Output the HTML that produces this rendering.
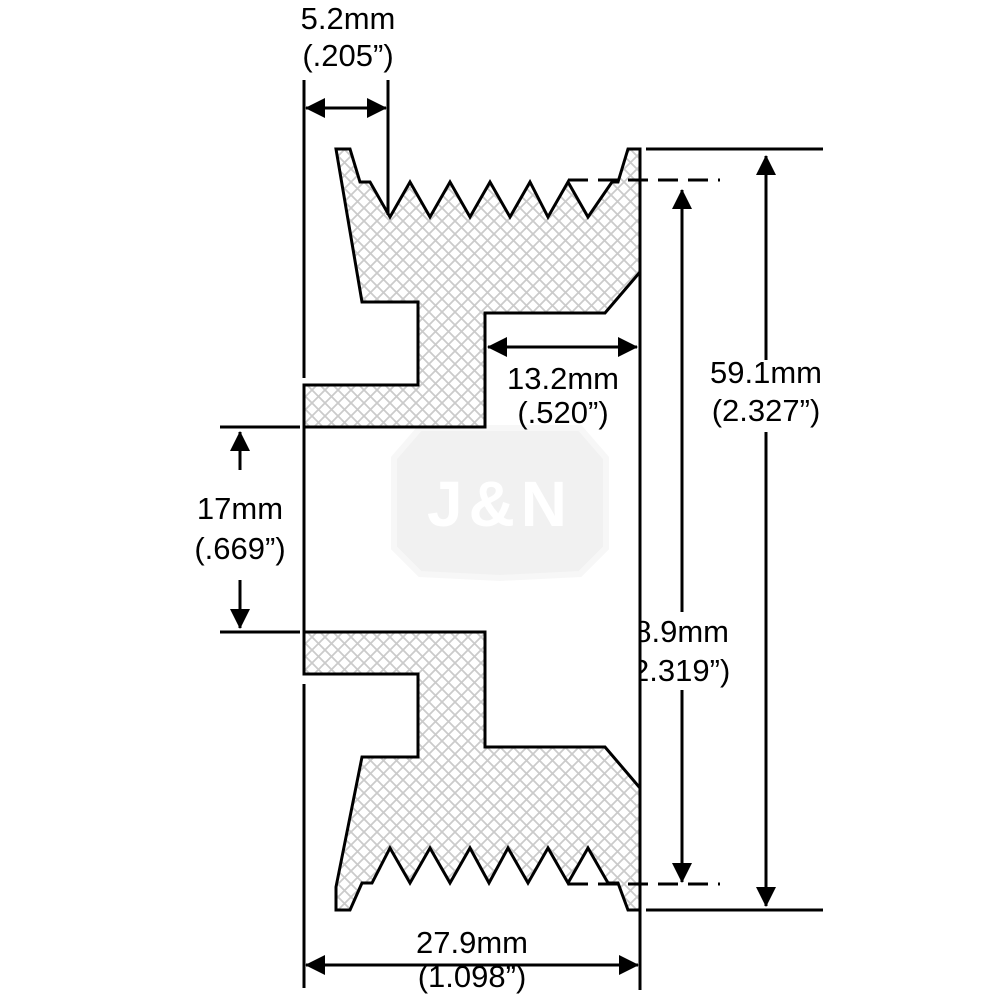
<!DOCTYPE html>
<html><head><meta charset="utf-8"><style>
html,body{margin:0;padding:0;background:#fff}
svg{display:block}
text{font-family:"Liberation Sans",Arial,sans-serif;font-size:31px;fill:#000;text-anchor:middle}
</style></head><body>
<svg width="1000" height="1000" viewBox="0 0 1000 1000" xmlns="http://www.w3.org/2000/svg">
<defs>
<pattern id="h" width="13" height="13" patternUnits="userSpaceOnUse">
<path d="M0,0L13,13M13,0L0,13" stroke="#cbcbcb" stroke-width="1.8"/>
</pattern>
<marker id="a" viewBox="0 0 20 20" refX="19" refY="10" markerWidth="20" markerHeight="20" markerUnits="userSpaceOnUse" orient="auto-start-reverse">
<path d="M0,0L20,10L0,20Z" fill="#000"/>
</marker>
</defs>
<path d="M420,428 L580,428 L606,458 L606,548 L580,574 L500,578 L420,574 L394,548 L394,458 Z" fill="#f1f1f1" stroke="#f7f7f7" stroke-width="6"/>
<text x="500" y="526" style="font-size:64px;font-weight:bold;fill:#fff;letter-spacing:6px">J&amp;N</text>

<path d="M336,149 L350,149 L360,182 L370,182 L390,217 L410,182 L430,217 L450,182 L470,217 L490,182 L510,217 L530,182 L548,217 L568,182 L588,217 L612,182 L618,182 L628,149 L640,149 L640,272 L605,313 L485,313 L485,427 L304,427 L304,385 L418,385 L418,302 L362,302 Z" fill="url(#h)" stroke="#000" stroke-width="3"/>
<path d="M304,632 L485,632 L485,747 L605,747 L640,788 L640,910 L628,910 L618,883 L608,883 L588,848 L568,883 L548,848 L528,883 L508,848 L489,883 L470,848 L450,883 L430,848 L410,883 L390,848 L372,883 L362,883 L350,910 L336,910 L336,887 L362,757 L418,757 L418,674 L304,674 Z" fill="url(#h)" stroke="#000" stroke-width="3"/>

<g stroke="#000" stroke-width="3" fill="none">
<line x1="304" y1="80" x2="304" y2="378"/>
<line x1="304" y1="427" x2="304" y2="632"/>
<line x1="304" y1="684" x2="304" y2="988"/>
<line x1="640" y1="149" x2="640" y2="990"/>
<line x1="388" y1="80" x2="388" y2="215"/>
<line x1="646" y1="149" x2="823" y2="149"/>
<line x1="646" y1="910" x2="823" y2="910"/>
<line x1="568" y1="180" x2="720" y2="180" stroke-dasharray="20,10"/>
<line x1="568" y1="884" x2="720" y2="884" stroke-dasharray="20,10"/>
<line x1="220" y1="427" x2="300" y2="427"/>
<line x1="220" y1="632" x2="300" y2="632"/>
<line x1="306" y1="108" x2="386" y2="108" marker-start="url(#a)" marker-end="url(#a)"/>
<line x1="488" y1="347" x2="637" y2="347" marker-start="url(#a)" marker-end="url(#a)"/>
<line x1="306" y1="965" x2="638" y2="965" marker-start="url(#a)" marker-end="url(#a)"/>
<line x1="766" y1="360" x2="766" y2="156" marker-end="url(#a)"/>
<line x1="766" y1="432" x2="766" y2="906" marker-end="url(#a)"/>
<line x1="682" y1="612" x2="682" y2="190" marker-end="url(#a)"/>
<line x1="682" y1="690" x2="682" y2="882" marker-end="url(#a)"/>
<line x1="240" y1="470" x2="240" y2="432" marker-end="url(#a)"/>
<line x1="240" y1="580" x2="240" y2="628" marker-end="url(#a)"/>
</g>

<text x="348" y="29">5.2mm</text>
<text x="348" y="66">(.205”)</text>
<text x="563" y="389">13.2mm</text>
<text x="563" y="423">(.520”)</text>
<text x="766" y="383">59.1mm</text>
<text x="766" y="421">(2.327”)</text>
<text x="240" y="519">17mm</text>
<text x="240" y="559">(.669”)</text>
<text x="472" y="953">27.9mm</text>
<text x="472" y="987">(1.098”)</text>
<text x="673" y="642">58.9mm</text>
<text x="676" y="681">(2.319”)</text>
<rect x="590" y="605" width="48.5" height="90" fill="#fff"/>
<line x1="640" y1="600" x2="640" y2="700" stroke="#000" stroke-width="3"/>
</svg>
</body></html>
